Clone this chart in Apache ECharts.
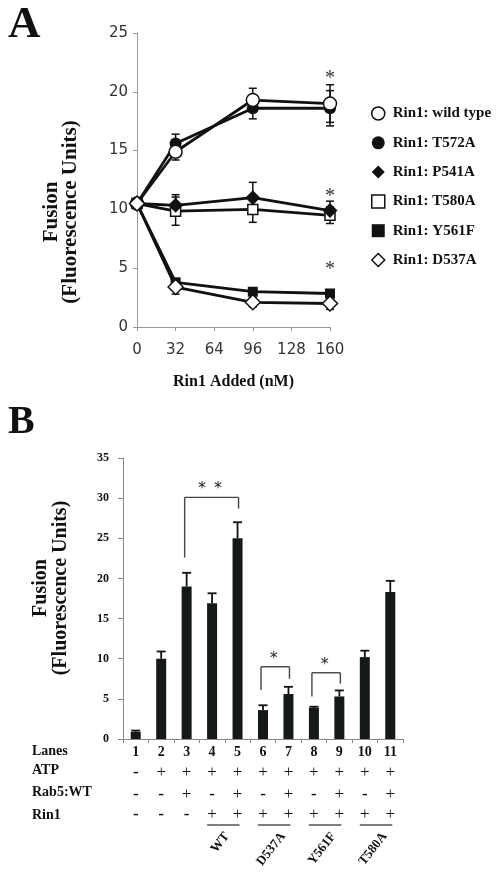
<!DOCTYPE html>
<html><head><meta charset="utf-8">
<script src="https://cdn.jsdelivr.net/npm/echarts@6/dist/echarts.min.js"></script>
<style>html,body{margin:0;padding:0;background:#fff;}#c{width:503px;height:874px;}</style>
</head><body><div id="c"></div>
<script>
// ---------- Panel A data ----------
const concA = [0, 32, 96, 160];
const xTicksA = [0, 32, 64, 96, 128, 160];
const wildType = [10.5, 14.9, 19.3, 19.0];
const wildTypeErr = [0, 0.7, 1.0, 1.6];
const t572a = [10.5, 15.6, 18.6, 18.6];
const t572aErr = [0, 0.8, 0.9, 1.5];
const p541a = [10.5, 10.35, 11.0, 9.9];
const p541aErr = [0, 0.9, 1.3, 0.8];
const t580a = [10.5, 9.85, 10.0, 9.5];
const t580aErr = [0, 1.2, 1.1, 0.7];
const y561f = [10.5, 3.8, 3.0, 2.85];
const y561fErr = [0, 0.3, 0.3, 0.3];
const d537a = [10.5, 3.4, 2.1, 2.0];
const d537aErr = [0, 0.6, 0.4, 0.5];
const starsAx = [160, 160, 160];
const starsAy = [21.4, 11.3, 5.1];

// ---------- Panel B data ----------
const lanes = ['1','2','3','4','5','6','7','8','9','10','11'];
const fusionB = [0.9, 10.0, 19.0, 16.9, 25.0, 3.6, 5.6, 3.9, 5.3, 10.2, 18.3];
const fusionBErr = [0.15, 0.9, 1.7, 1.25, 2.0, 0.6, 0.9, 0.12, 0.75, 0.8, 1.4];
const atpSigns  = ['-','+','+','+','+','+','+','+','+','+','+'];
const rab5Signs = ['-','-','+','-','+','-','+','-','+','-','+'];
const rin1Signs = ['-','-','-','+','+','+','+','+','+','+','+'];
const rowTitles = ['Lanes','ATP','Rab5:WT','Rin1'];
const groupNames = ['WT','D537A','Y561F','T580A'];
const groupLanes = [[4,5],[6,7],[8,9],[10,11]];
const bracketLanes = [[3,5],[6,7],[8,9]];
const bracketTop = [30.1, 9.0, 8.25];
const bracketLeftEnd = [22.6, 6.1, 5.3];
const bracketRightEnd = [28.7, 7.5, 6.9];
const bracketMarks = ['*\u2002*', '*', '*'];

const serif = '"Liberation Serif","Times New Roman",serif';
const sans = '"DejaVu Sans",Verdana,sans-serif';
const ink = '#111';

const chart = echarts.init(document.getElementById('c'), null, {renderer:'canvas'});

const seriesDefs = [
  {name:'Rin1: T572A', vals:t572a, errs:t572aErr, symbol:'circle', size:12, fill:ink},
  {name:'Rin1: wild type', vals:wildType, errs:wildTypeErr, symbol:'circle', size:13, fill:'#fff'},
  {name:'Rin1: T580A', vals:t580a, errs:t580aErr, symbol:'rect', size:10, fill:'#fff'},
  {name:'Rin1: P541A', vals:p541a, errs:p541aErr, symbol:'diamond', size:15, fill:ink},
  {name:'Rin1: Y561F', vals:y561f, errs:y561fErr, symbol:'rect', size:10, fill:ink},
  {name:'Rin1: D537A', vals:d537a, errs:d537aErr, symbol:'diamond', size:15, fill:'#fff'}
];
const legendOrder = [
  ['Rin1: wild type','circle','#fff'],
  ['Rin1: T572A','circle',ink],
  ['Rin1: P541A','diamond',ink],
  ['Rin1: T580A','rect','#fff'],
  ['Rin1: Y561F','rect',ink],
  ['Rin1: D537A','diamond','#fff']
];

const errDataA = [];
seriesDefs.forEach(s => concA.forEach((x,i) => { if (s.errs[i] > 0) errDataA.push([x, s.vals[i], s.errs[i]]); }));

function seg(x1,y1,x2,y2,w,c){return {type:'line',shape:{x1,y1,x2,y2},style:{stroke:c||ink,lineWidth:w}};}

const series = [];
series.push({
  type:'custom', xAxisIndex:0, yAxisIndex:0, z:2, silent:true,
  data: errDataA,
  renderItem:(p, api) => {
    const x = api.value(0), y = api.value(1), e = api.value(2);
    const t = api.coord([x, y+e]), b = api.coord([x, y-e]);
    return {type:'group', children:[seg(t[0],t[1],b[0],b[1],1.5), seg(t[0]-4,t[1],t[0]+4,t[1],1.5), seg(b[0]-4,b[1],b[0]+4,b[1],1.5)]};
  }
});
seriesDefs.forEach(s => {
  series.push({
    type:'line', name:s.name, xAxisIndex:0, yAxisIndex:0, z:3,
    data: concA.map((x,i)=>[x, s.vals[i]]),
    symbol:s.symbol, symbolSize:s.size, showAllSymbol:true,
    lineStyle:{color:ink, width:2.8},
    itemStyle:{color:s.fill, borderColor:ink, borderWidth:s.fill==='#fff'?1.5:0},
    emphasis:{disabled:true}, animation:false
  });
});
series.push({
  type:'custom', xAxisIndex:0, yAxisIndex:0, z:5, silent:true,
  data: starsAx.map((x,i)=>[x, starsAy[i]]),
  renderItem:(p, api) => {
    const c = api.coord([api.value(0), api.value(1)]);
    return {type:'text', x:c[0], y:c[1]+3, style:{text:'*', font:'20px '+serif, fill:'#333', align:'center', verticalAlign:'middle'}};
  }
});
// Panel B
series.push({
  type:'bar', xAxisIndex:1, yAxisIndex:1, data:fusionB, barWidth:10,
  itemStyle:{color:'#151a18'}, animation:false, emphasis:{disabled:true}
});
series.push({
  type:'custom', xAxisIndex:1, yAxisIndex:1, z:3, silent:true,
  data: fusionB.map((v,i)=>[i, v, fusionBErr[i]]),
  renderItem:(p, api) => {
    const i = api.value(0), v = api.value(1), e = api.value(2);
    const b = api.coord([i, v]), t = api.coord([i, v+e]);
    return {type:'group', children:[seg(b[0],b[1],t[0],t[1],1.8), seg(t[0]-4.5,t[1],t[0]+4.5,t[1],1.8)]};
  }
});
series.push({
  type:'custom', xAxisIndex:1, yAxisIndex:1, z:4, silent:true,
  data: bracketLanes.map((l,i)=>[l[0]-1, l[1]-1, bracketTop[i], bracketLeftEnd[i], bracketRightEnd[i]]),
  renderItem:(p, api) => {
    const a = api.value(0), b = api.value(1);
    const tl = api.coord([a, api.value(2)]), tr = api.coord([b, api.value(2)]);
    const bl = api.coord([a, api.value(3)]), br = api.coord([b, api.value(4)]);
    const c = '#444';
    return {type:'group', children:[
      seg(tl[0]-2,tl[1],tr[0]+1,tr[1],1.4,c), seg(tl[0]-2,tl[1],bl[0]-2,bl[1],1.4,c), seg(tr[0]+1,tr[1],br[0]+1,br[1],1.4,c),
      {type:'text', x:(tl[0]+tr[0])/2-2, y:tl[1]-8, style:{text:bracketMarks[p.dataIndex], font:'16px '+sans, fill:'#222', align:'center', verticalAlign:'middle'}}
    ]};
  }
});

function signAxis(signs, offset){
  return {
    type:'category', gridIndex:1, data:lanes, position:'bottom', offset:offset,
    axisLine:{show:false}, axisTick:{show:false}, splitLine:{show:false},
    axisLabel:{interval:0, margin:0, formatter:(v,idx)=> signs[idx]==='+' ? '{p|+}' : '{m|-}',
      rich:{p:{fontSize:17, fontFamily:serif, fontWeight:'normal', color:ink, lineHeight:17},
            m:{fontSize:17, fontFamily:serif, fontWeight:'bold', color:ink, lineHeight:17}}}
  };
}

const option = {
  backgroundColor:'#fff',
  animation:false,
  grid:[
    {left:137, top:33, width:193, height:294, outerBoundsMode:'none', containLabel:false},
    {left:123, top:458, width:280, height:281, outerBoundsMode:'none', containLabel:false}
  ],
  legend:{
    orient:'vertical', left:366, top:101, itemGap:14.3, itemWidth:13, itemHeight:13,
    symbolKeepAspect:true,
    textStyle:{color:ink, fontWeight:'bold', fontSize:15, fontFamily:serif, padding:[0,0,0,3]},
    selectedMode:false,
    data: legendOrder.map(l => ({name:l[0], icon:l[1], itemStyle:{color:l[2], borderColor:ink, borderWidth:l[2]==='#fff'?1.5:0}}))
  },
  xAxis:[
    {type:'value', gridIndex:0, min:0, max:160, interval:32,
     name:'Rin1 Added (nM)', nameLocation:'middle', nameGap:47,
     nameTextStyle:{fontFamily:serif, fontWeight:'bold', fontSize:16, color:ink},
     axisLine:{show:true, lineStyle:{color:'#999', width:1}}, axisTick:{show:true, length:4, lineStyle:{color:'#999'}},
     splitLine:{show:false},
     axisLabel:{margin:16, fontFamily:sans, fontSize:15, color:'#333'}},
    {type:'category', gridIndex:1, data:lanes,
     axisLine:{lineStyle:{color:'#888', width:1}}, axisTick:{show:true, length:4, lineStyle:{color:'#888'}},
     axisLabel:{interval:0, margin:6, fontFamily:serif, fontWeight:'bold', fontSize:14, color:ink}},
    signAxis(atpSigns, 25),
    signAxis(rab5Signs, 47),
    signAxis(rin1Signs, 67.5)
  ],
  yAxis:[
    {type:'value', gridIndex:0, min:0, max:25, interval:5,
     axisLine:{show:true, lineStyle:{color:'#999', width:1}}, axisTick:{show:true, length:4, lineStyle:{color:'#999'}},
     splitLine:{show:false},
     axisLabel:{margin:9, fontFamily:sans, fontSize:15, color:'#333'}},
    {type:'value', gridIndex:1, min:0, max:35, interval:5,
     axisLine:{show:true, lineStyle:{color:'#888', width:1}}, axisTick:{show:true, length:5, lineStyle:{color:'#888'}},
     splitLine:{show:false},
     axisLabel:{margin:14, fontFamily:serif, fontWeight:'bold', fontSize:12, color:ink}}
  ],
  series
};
chart.setOption(option);

// ---------- annotations positioned from the axes ----------
const g = [];
g.push({type:'text', x:8, y:25, style:{text:'A', font:'bold 45px '+serif, fill:ink, verticalAlign:'middle'}});
g.push({type:'text', x:8, y:423, style:{text:'B', font:'bold 40px '+serif, fill:ink, verticalAlign:'middle'}});
g.push({type:'text', x:61, y:212, rotation:Math.PI/2, style:{text:'Fusion\n(Fluorescence Units)', font:'bold 21px '+serif, lineHeight:19, fill:ink, align:'center', verticalAlign:'middle'}});
g.push({type:'text', x:51, y:588, rotation:Math.PI/2, style:{text:'Fusion\n(Fluorescence Units)', font:'bold 20px '+serif, lineHeight:20, fill:ink, align:'center', verticalAlign:'middle'}});
const rowY = [751.5, 770.7, 792.7, 815];
rowTitles.forEach((t,i)=> g.push({type:'text', x:32, y:rowY[i], style:{text:t, font:'bold 14px '+serif, fill:ink, verticalAlign:'middle'}}));

const ctx = document.createElement('canvas').getContext('2d');
const gFont = 'bold 13px '+serif;
ctx.font = gFont;
const ang = 52*Math.PI/180;
groupLanes.forEach((pair,i)=>{
  const xl = chart.convertToPixel({xAxisIndex:1}, lanes[pair[0]-1]);
  const xr = chart.convertToPixel({xAxisIndex:1}, lanes[pair[1]-1]);
  const x1 = xl-5, x2 = xr+2, yl = 825;
  g.push({type:'line', shape:{x1:x1, y1:yl, x2:x2, y2:yl}, style:{stroke:'#555', lineWidth:1.5}});
  const L = ctx.measureText(groupNames[i]).width;
  const bh = L*Math.sin(ang) + 10*Math.cos(ang);
  g.push({type:'text', x:(x1+x2)/2-3, y:831+bh/2, rotation:ang, style:{text:groupNames[i], font:gFont, fill:ink, align:'center', verticalAlign:'middle'}});
});
chart.setOption({graphic:g});
</script></body></html>
